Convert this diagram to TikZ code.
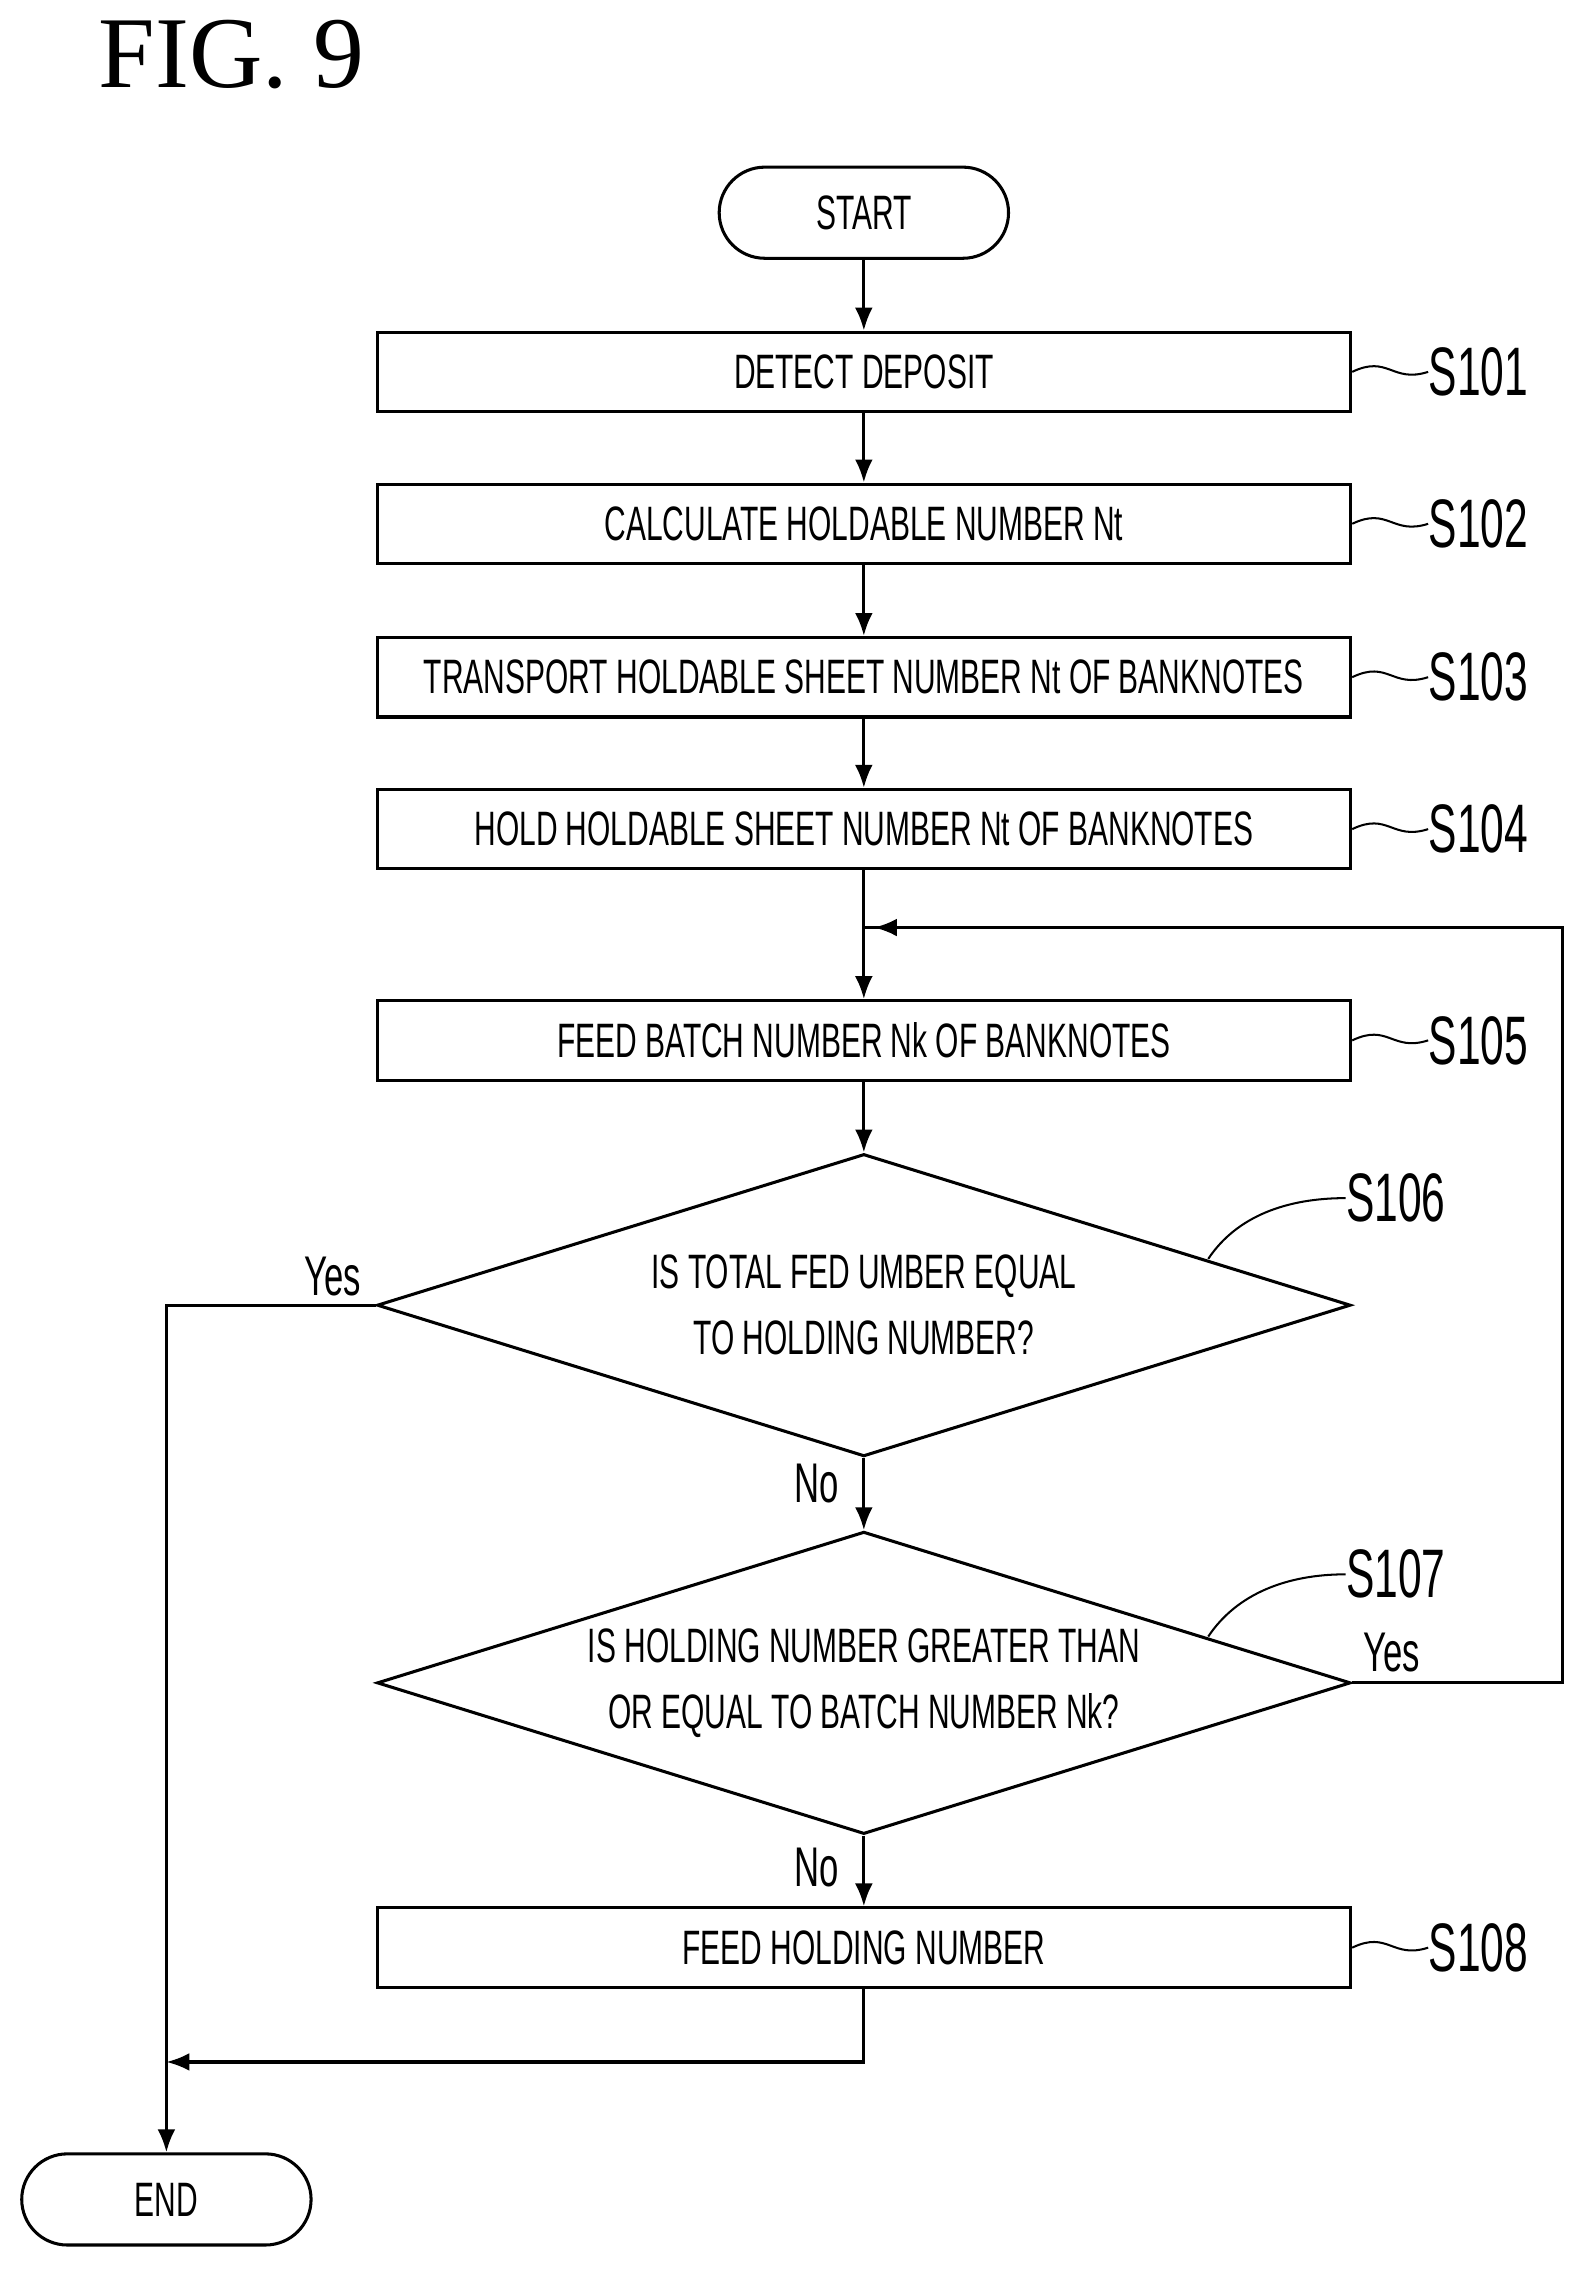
\documentclass[tikz,border=0pt]{standalone}
\usepackage{fontspec}
\setmainfont{Liberation Serif}
\setsansfont[FakeStretch=0.62]{Liberation Sans}
\usetikzlibrary{arrows.meta,positioning,shapes.geometric}

\begin{document}
\begin{tikzpicture}[
        x=0.02cm, y=-0.02cm,
        font=\sffamily\fontsize{19}{23}\selectfont,
        box/.style={rectangle, draw, line width=1.2pt, minimum width=13.46cm, minimum height=1.1cm, align=center},
        term/.style={rectangle, draw, line width=1.2pt, rounded corners=0.63cm, minimum width=4cm, minimum height=1.26cm},
        dec/.style={diamond, draw, line width=1.2pt, aspect=3.22, minimum width=13.46cm, minimum height=4.18cm, inner sep=0pt, align=center, font=\sffamily\fontsize{19}{26}\selectfont},
        steplabel/.style={font=\sffamily\fontsize{27}{30}\selectfont, anchor=west, inner sep=0pt},
        lbl/.style={font=\sffamily\fontsize{22}{26}\selectfont},
        arrow/.style={-{Latex[length=9pt,width=7pt]}, line width=1.2pt},
        line/.style={line width=1.2pt},
        tilde/.style={line width=0.8pt}
    ]
    \useasboundingbox (0,0) rectangle (1100,1575);

    % Title
    \node[font=\fontsize{40}{44}\selectfont] (fig) at (160,38) {FIG. 9};

    % Terminals
    \node[term] (start) at (597,147) {START};
    \node[term] (end) at (115,1520) {END};

    % Steps
    \node[box] (s101) at (597,257) {DETECT DEPOSIT};
    \node[box] (s102) at (597,362) {CALCULATE HOLDABLE NUMBER Nt};
    \node[box] (s103) at (597,468) {TRANSPORT HOLDABLE SHEET NUMBER Nt OF BANKNOTES};
    \node[box] (s104) at (597,573) {HOLD HOLDABLE SHEET NUMBER Nt OF BANKNOTES};
    \node[box] (s105) at (597,719) {FEED BATCH NUMBER Nk OF BANKNOTES};
    \node[dec] (s106) at (597,902) {IS TOTAL FED UMBER EQUAL\\TO HOLDING NUMBER?};
    \node[dec] (s107) at (597,1163) {IS HOLDING NUMBER GREATER THAN\\OR EQUAL TO BATCH NUMBER Nk?};
    \node[box] (s108) at (597,1346) {FEED HOLDING NUMBER};

    % Step labels
    \foreach \n in {101,102,103,104,105,108}{
        \node[steplabel] (l\n) at ([xshift=1.05cm]s\n.east) {S\n};
        \draw[tilde] (s\n.east) .. controls +(25,-12) and +(-25,8) .. (l\n.west);
    }
    \node[steplabel] (l106) at (930,828) {S106};
    \node[steplabel] (l107) at (930,1088) {S107};
    \coordinate (t106) at (835,870);
    \coordinate (t107) at (835,1131);
    \draw[tilde] (t106) .. controls +(20,-30) and +(-40,0) .. (l106.west);
    \draw[tilde] (t107) .. controls +(20,-30) and +(-40,0) .. (l107.west);

    % Main flow
    \draw[arrow] (start) -- (s101);
    \draw[arrow] (s101) -- (s102);
    \draw[arrow] (s102) -- (s103);
    \draw[arrow] (s103) -- (s104);
    \draw[arrow] (s104) -- (s105);
    \draw[arrow] (s105) -- (s106);
    \draw[arrow] (s106) -- node[lbl, left, pos=0.35, xshift=-6pt] {No} (s107);
    \draw[arrow] (s107) -- node[lbl, left, pos=0.45, xshift=-6pt] {No} (s108);

    % Yes branches
    \coordinate (loop) at (597,641);
    \draw[arrow] (s106.west) -| (end.north);
    \node[lbl] (yes106) at (230,882) {Yes};
    \draw[line] (s107.east) -- (1080,1163) |- (loop);
    \draw[arrow] (1080,641) -- (604,641);
    \node[lbl] (yes107) at (962,1142) {Yes};

    % Join
    \coordinate (join) at (115,1425);
    \draw[line] (s108.south) |- (300,1425);
    \draw[arrow] (300,1425) -- (join);
\end{tikzpicture}
\end{document}
